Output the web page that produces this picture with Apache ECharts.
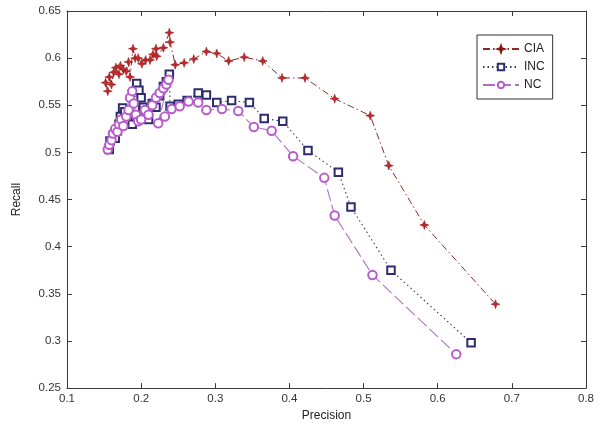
<!DOCTYPE html>
<html>
<head>
<meta charset="utf-8">
<script src="https://cdn.jsdelivr.net/npm/echarts@6/dist/echarts.min.js"></script>
<style>html,body{margin:0;padding:0;background:#fff}#c{width:600px;height:427px}</style>
</head>
<body>
<div id="c"></div>
<script>
// Precision / Recall pairs
var ciaPoints = [
  [0.155,0.565],[0.152,0.574],[0.157,0.580],[0.160,0.572],[0.163,0.585],[0.166,0.590],
  [0.170,0.583],[0.172,0.592],[0.176,0.588],[0.180,0.586],[0.183,0.596],[0.185,0.580],
  [0.189,0.610],[0.192,0.600],[0.196,0.600],[0.201,0.594],[0.206,0.598],[0.212,0.598],
  [0.216,0.604],[0.220,0.610],[0.221,0.602],[0.230,0.611],[0.238,0.627],[0.239,0.617],
  [0.246,0.593],[0.258,0.595],[0.271,0.599],[0.288,0.607],[0.302,0.605],[0.318,0.597],
  [0.339,0.601],[0.364,0.597],[0.390,0.579],[0.421,0.579],[0.461,0.557],[0.509,0.539],
  [0.534,0.486],[0.582,0.423],[0.678,0.339]
];
var incPoints = [
  [0.157,0.503],[0.158,0.512],[0.162,0.518],[0.165,0.515],[0.168,0.523],[0.170,0.530],
  [0.172,0.538],[0.175,0.547],[0.178,0.543],[0.182,0.534],[0.185,0.541],[0.188,0.530],
  [0.192,0.548],[0.194,0.573],[0.197,0.566],[0.200,0.558],[0.203,0.548],[0.198,0.537],
  [0.205,0.540],[0.210,0.535],[0.215,0.552],[0.220,0.548],[0.225,0.560],[0.230,0.570],
  [0.234,0.575],[0.238,0.583],[0.239,0.549],[0.250,0.551],[0.262,0.555],[0.277,0.563],
  [0.288,0.561],[0.302,0.553],[0.322,0.555],[0.346,0.553],[0.366,0.536],[0.391,0.533],
  [0.425,0.502],[0.466,0.479],[0.483,0.442],[0.537,0.375],[0.645,0.298]
];
var ncPoints = [
  [0.155,0.503],[0.157,0.508],[0.160,0.513],[0.162,0.520],[0.165,0.525],[0.168,0.522],
  [0.170,0.530],[0.173,0.535],[0.176,0.528],[0.180,0.538],[0.183,0.545],[0.185,0.558],
  [0.188,0.565],[0.190,0.552],[0.193,0.540],[0.196,0.533],[0.200,0.535],[0.205,0.545],
  [0.210,0.540],[0.215,0.550],[0.220,0.558],[0.225,0.563],[0.230,0.568],[0.234,0.572],
  [0.237,0.577],[0.223,0.531],[0.232,0.538],[0.241,0.546],[0.252,0.549],[0.264,0.554],
  [0.277,0.553],[0.288,0.545],[0.309,0.546],[0.331,0.544],[0.352,0.527],[0.376,0.523],
  [0.405,0.496],[0.447,0.473],[0.461,0.433],[0.512,0.370],[0.625,0.286]
];
var seriesNames = ['CIA','INC','NC'];
var xTicks = {min:0.1, max:0.8, step:0.1};
var yTicks = {min:0.25, max:0.65, step:0.05};

var starPath = 'path://M5,0 L6.3,3.7 L10,5 L6.3,6.3 L5,10 L3.7,6.3 L0,5 L3.7,3.7 Z';
var font = 'Liberation Sans, Arial, sans-serif';
var axisColor = '#3a3a3a';

var chart = echarts.init(document.getElementById('c'), null, {renderer:'canvas'});
chart.setOption({
  animation:false,
  backgroundColor:'#ffffff',
  grid:{left:67, right:14, top:11, bottom:38},
  legend:{
    orient:'vertical', left:477, top:35,
    width:75, padding:[8,8,8,5], itemGap:6,
    itemWidth:36, itemHeight:8,
    backgroundColor:'#fff', borderColor:'#333', borderWidth:1,
    textStyle:{fontFamily:font, fontSize:12, color:'#222'},
    data:seriesNames
  },
  xAxis:[{
    type:'value', min:xTicks.min, max:xTicks.max, interval:xTicks.step,
    name:'Precision', nameLocation:'middle', nameGap:18,
    nameTextStyle:{fontFamily:font, fontSize:12, color:'#222'},
    axisLine:{lineStyle:{color:axisColor}},
    axisTick:{inside:true, length:5, lineStyle:{color:axisColor}},
    axisLabel:{fontFamily:font, fontSize:11.5, color:'#333', margin:5},
    splitLine:{show:false}
  },{
    type:'value', position:'top', min:xTicks.min, max:xTicks.max, interval:xTicks.step,
    axisLine:{onZero:false, lineStyle:{color:axisColor}},
    axisTick:{inside:true, length:5, lineStyle:{color:axisColor}},
    axisLabel:{show:false}, splitLine:{show:false}
  }],
  yAxis:[{
    type:'value', min:yTicks.min, max:yTicks.max, interval:yTicks.step,
    name:'Recall', nameLocation:'middle', nameGap:44,
    nameTextStyle:{fontFamily:font, fontSize:12, color:'#222'},
    axisLine:{show:true, lineStyle:{color:axisColor}},
    axisTick:{show:true, inside:true, length:5, lineStyle:{color:axisColor}},
    axisLabel:{fontFamily:font, fontSize:11.5, color:'#333', margin:6},
    splitLine:{show:false}
  },{
    type:'value', position:'right', min:yTicks.min, max:yTicks.max, interval:yTicks.step,
    axisLine:{show:true, onZero:false, lineStyle:{color:axisColor}},
    axisTick:{show:true, inside:true, length:5, lineStyle:{color:axisColor}},
    axisLabel:{show:false}, splitLine:{show:false}
  }],
  series:[{
    name:'CIA', type:'line', data:ciaPoints,
    symbol:starPath, symbolSize:9,
    itemStyle:{color:'#c4262a', borderColor:'#8a1515', borderWidth:0.5},
    lineStyle:{color:'#8a2a2a', width:1, type:[7,3,1.5,3]},
    z:2
  },{
    name:'INC', type:'line', data:incPoints,
    symbol:'emptyRect', symbolSize:7.5,
    itemStyle:{color:'#2c2c6e', borderWidth:1.1},
    lineStyle:{color:'#3a3a5a', width:1.1, type:[1.5,3]},
    z:3
  },{
    name:'NC', type:'line', data:ncPoints,
    symbol:'emptyCircle', symbolSize:8.5,
    itemStyle:{color:'#b85ccc', borderWidth:1},
    lineStyle:{color:'#b070c0', width:1.1, type:[12,4]},
    z:4
  }]
});
</script>
</body>
</html>
